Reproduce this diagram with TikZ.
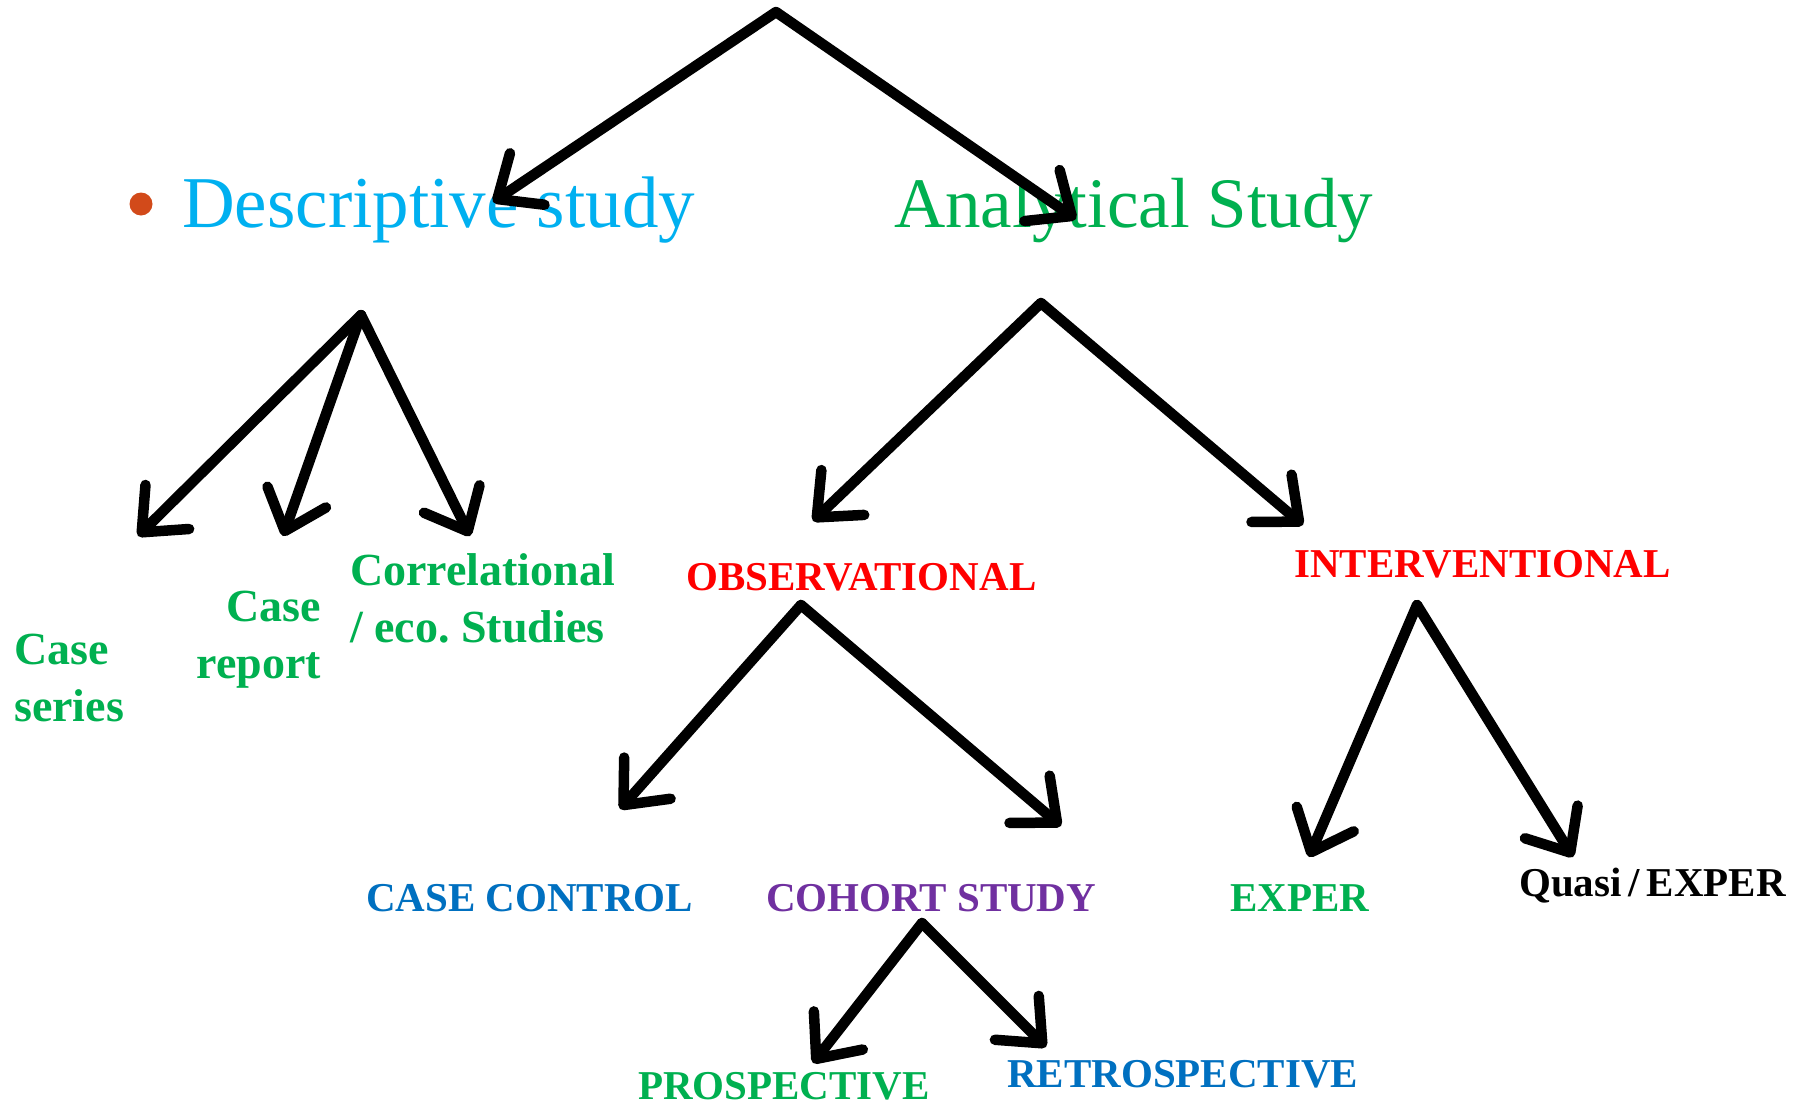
\documentclass[tikz,border=0pt]{standalone}
\usepackage{fontspec}
\setmainfont{Liberation Serif}
\usetikzlibrary{arrows.meta}
\definecolor{cyanT}{HTML}{00B0F0}
\definecolor{greenT}{HTML}{00B050}
\definecolor{redT}{HTML}{FF0000}
\definecolor{blueT}{HTML}{0070C0}
\definecolor{purpleT}{HTML}{7030A0}
\definecolor{bulletC}{HTML}{D24A1A}
\tikzset{
  arr/.style={line width=10.5pt, line cap=round, -{Straight Barb[length=36pt,width=62pt,round]}},
  big/.style={inner sep=0pt, font=\fontsize{73}{86}\selectfont},
  small/.style={inner sep=0pt, font=\bfseries\fontsize{46}{57}\selectfont},
  caps/.style={inner sep=0pt, font=\bfseries\fontsize{41}{48}\selectfont},
}
\begin{document}
\begin{tikzpicture}[x=1pt,y=-1pt]
\useasboundingbox (0,0) rectangle (1808,1106);
\fill[white] (0,0) rectangle (1808,1106);
% bullet
\fill[bulletC] (141,204) circle (11.5);
% texts
\node[big, text=cyanT, anchor=base west] (desc) at (182,227) {Descriptive study};
\node[big, text=greenT, anchor=base west, font=\fontsize{71}{86}\selectfont] (anal) at (894,227) {Analytical Study};
\node[small, text=greenT, anchor=north west, align=left] (series) at (14,634) {Case\\series};
\node[small, text=greenT, anchor=north east, align=right] (report) at (321,591) {Case\\report};
\node[small, text=greenT, anchor=north west, align=left] (corr) at (350,553) {Correlational\\/ eco.\ Studies};
\node[caps, text=redT, anchor=base west] (obs) at (686,590) {OBSERVATIONAL};
\node[caps, text=redT, anchor=base west] (int) at (1294,577) {INTERVENTIONAL};
\node[caps, text=blueT, anchor=base west] (cc) at (366,911) {CASE CONTROL};
\node[caps, text=purpleT, anchor=base west] (coh) at (766,911) {COHORT STUDY};
\node[caps, text=greenT, anchor=base west] (exp) at (1230,911) {EXPER};
\node[caps, text=black, anchor=base west] (quasi) at (1519,896) {Quasi\,/\,EXPER};
\node[caps, text=greenT, anchor=base west] (pro) at (638,1099) {PROSPECTIVE};
\node[caps, text=blueT, anchor=base west] (retro) at (1007,1087) {RETROSPECTIVE};
% coordinates
\coordinate (top) at (776,12);
\coordinate (tDesc) at (493,202);
\coordinate (tAnal) at (1076,219);
\coordinate (aDesc) at (361,315);
\coordinate (tSeries) at (138,536);
\coordinate (tReport) at (283,536);
\coordinate (tCorr) at (470,536);
\coordinate (aAnal) at (1041,303);
\coordinate (tObs) at (813,521);
\coordinate (tInt) at (1303,525);
\coordinate (aObs) at (801,605);
\coordinate (tCC) at (620,809);
\coordinate (tCoh) at (1061,826);
\coordinate (aInt) at (1417,605);
\coordinate (tExp) at (1309,857);
\coordinate (tQuasi) at (1573,857);
\coordinate (aCoh) at (922,923);
\coordinate (tPro) at (813,1063);
\coordinate (tRetro) at (1046,1047);
% arrows
\draw[arr] (top) -- (tDesc);
\draw[arr] (top) -- (tAnal);
\draw[arr] (aDesc) -- (tSeries);
\draw[arr] (aDesc) -- (tReport);
\draw[arr] (aDesc) -- (tCorr);
\draw[arr] (aAnal) -- (tObs);
\draw[arr] (aAnal) -- (tInt);
\draw[arr] (aObs) -- (tCC);
\draw[arr] (aObs) -- (tCoh);
\draw[arr] (aInt) -- (tExp);
\draw[arr] (aInt) -- (tQuasi);
\draw[arr] (aCoh) -- (tPro);
\draw[arr] (aCoh) -- (tRetro);
\end{tikzpicture}
\end{document}
